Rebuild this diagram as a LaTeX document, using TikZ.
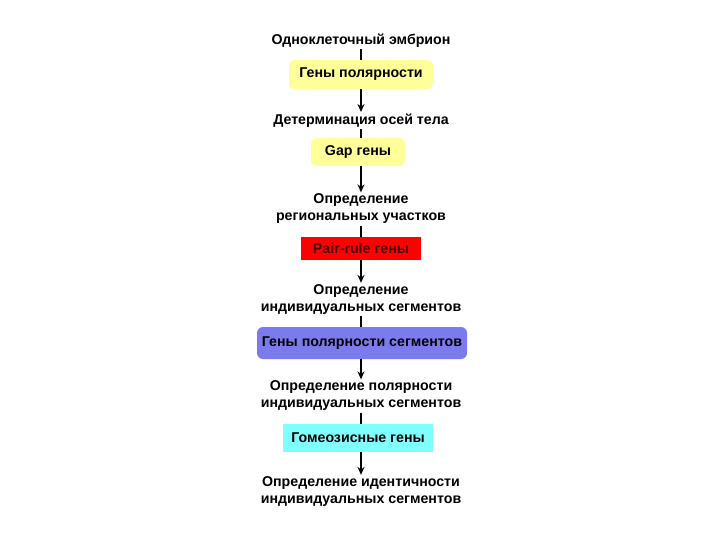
\documentclass[tikz,border=0pt]{standalone}
\usepackage{fontspec}
\setmainfont{Liberation Sans}
\usetikzlibrary{arrows.meta}
\definecolor{boxyellow}{HTML}{FFFF99}
\definecolor{boxred}{HTML}{FF0000}
\definecolor{boxblue}{HTML}{7B7BEE}
\definecolor{boxcyan}{HTML}{80FFFF}
\definecolor{redtext}{HTML}{500000}
\begin{document}
\begin{tikzpicture}[x=1pt,y=-1pt,
  lbl/.style={font=\fontsize{14.2}{17}\selectfont\bfseries, align=center, inner sep=1.5pt},
  gbox/.style={font=\fontsize{14.2}{17}\selectfont\bfseries, inner sep=0pt, align=center},
  link/.style={line width=1.4pt},
  arr/.style={line width=1.4pt, -{Stealth[length=8pt,width=7pt]}}]
\useasboundingbox (0,0) rectangle (720,540);
\fill[white] (0,0) rectangle (720,540);
% texts
\node[lbl] (t1) at (361,40.5) {Одноклеточный эмбрион};
\node[lbl] (t2) at (361,120.5) {Детерминация осей тела};
\node[lbl] (t3) at (361,209) {Определение\\региональных участков};
\node[lbl] (t4) at (361,299.5) {Определение\\индивидуальных сегментов};
\node[lbl] (t5) at (361,396) {Определение полярности\\индивидуальных сегментов};
\node[lbl] (t6) at (361,491.5) {Определение идентичности\\индивидуальных сегментов};
% boxes
\node[gbox, fill=boxyellow, rounded corners=5pt, minimum width=144pt, minimum height=29pt] (b1) at (361,74.5) {Гены полярности};
\node[gbox, fill=boxyellow, rounded corners=5pt, minimum width=94pt, minimum height=28pt] (b2) at (358,152) {Gap гены};
\node[gbox, fill=boxred, text=redtext, minimum width=120pt, minimum height=23pt] (b3) at (361,248.5) {Pair-rule гены};
\node[gbox, fill=boxblue, rounded corners=6pt, minimum width=210pt, minimum height=32pt] (b4) at (362,343) {Гены полярности сегментов};
\node[gbox, fill=boxcyan, minimum width=150pt, minimum height=28pt] (b5) at (358,438) {Гомеозисные гены};
% connectors
\draw[link] (t1.south) -- (t1.south |- b1.north);
\draw[arr] (b1.south) -- (b1.south |- t2.north);
\draw[link] (t2.south) -- (t2.south |- b2.north);
\draw[arr] (t2.south |- b2.south) -- (t3.north);
\draw[link] (t3.south) -- (b3.north);
\draw[arr] (b3.south) -- (t4.north);
\draw[link] (t4.south) -- (t4.south |- b4.north);
\draw[arr] (t4.south |- b4.south) -- (t5.north);
\draw[link] (t5.south) -- (t5.south |- b5.north);
\draw[arr] (t5.south |- b5.south) -- (t6.north);
\end{tikzpicture}
\end{document}
